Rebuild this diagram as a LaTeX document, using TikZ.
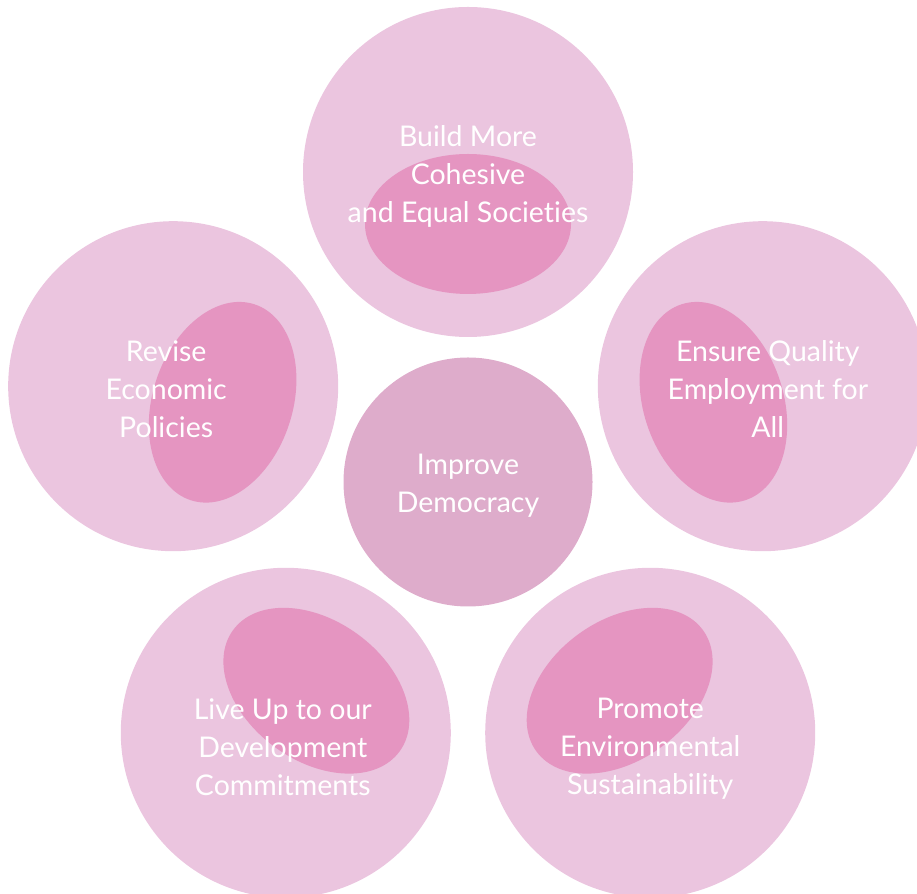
\documentclass[tikz,border=0pt]{standalone}
\usepackage{fontspec}
\setmainfont[Ligatures={NoCommon,NoRare}]{Lato}
\usetikzlibrary{calc}
\definecolor{outerpink}{HTML}{EBC5DF}
\definecolor{innerpink}{HTML}{E595C1}
\definecolor{centerpink}{HTML}{DEACCB}
\begin{document}
\begin{tikzpicture}[x=1pt,y=1pt,
  outer/.style={fill=outerpink,draw=none},
  inner/.style={fill=innerpink,draw=none},
  lbl/.style={text=white,font=\fontsize{28.5}{38}\selectfont,align=center,inner sep=0pt}]
\useasboundingbox (0,0) rectangle (917,893);
\clip (0,0) rectangle (917,893);
\coordinate (C) at (468,411);
\foreach \a/\n in {90/top,162/left,18/right,234/bl,306/br}{
  \fill[outer] ($(C)+(\a:310)$) circle[radius=165];
  \begin{scope}[shift={($(C)+(\a:258)$)},rotate=\a]
    \fill[inner] (0,0) ellipse[x radius=70,y radius=103];
  \end{scope}
  \coordinate (\n) at ($(C)+(\a:310)$);
}
\node[circle,fill=centerpink,minimum size=249pt,inner sep=0pt] (center) at (C) {};
\node[lbl] (ttop) at ($(top)+(0,-4)$) {Build More\\Cohesive\\and Equal Societies};
\node[lbl] (tleft) at ($(left)+(-7,-3)$) {Revise\\Economic\\Policies};
\node[lbl] (tright) at ($(right)+(5,-3)$) {Ensure Quality\\Employment for\\All};
\node[lbl] (tcenter) at ($(C)+(0,-4)$) {Improve\\Democracy};
\node[lbl] (tbl) at ($(bl)+(-3,-14)$) {Live Up to our\\Development\\Commitments};
\node[lbl] (tbr) at ($(br)+(0,-16)$) {Promote\\Environmental\\Sustainability};
\end{tikzpicture}
\end{document}
